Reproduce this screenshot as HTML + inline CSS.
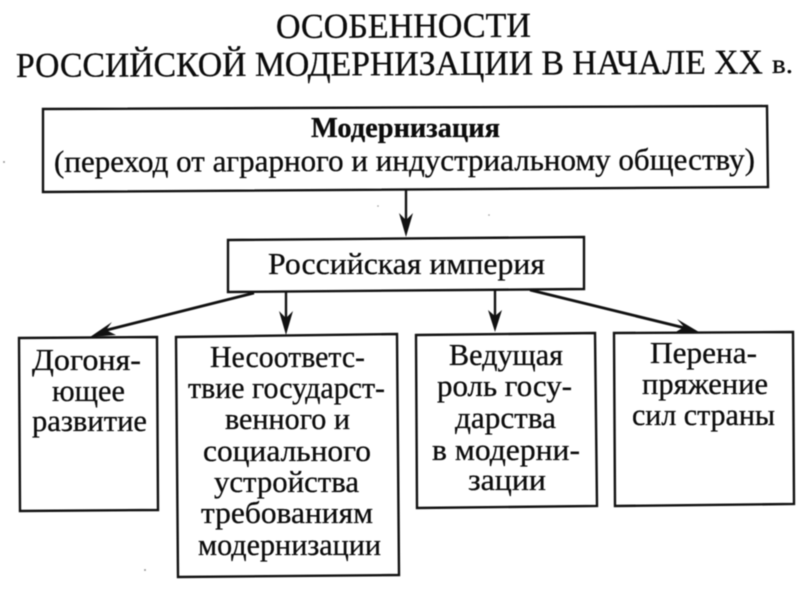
<!DOCTYPE html>
<html><head><meta charset="utf-8"><style>
html,body{margin:0;padding:0;background:#fff;width:800px;height:600px;overflow:hidden}
svg{display:block;filter:blur(.4px)}
text{font-family:"Liberation Serif","Noto Serif CJK SC",serif;fill:#0c0c0c;stroke:#0c0c0c;stroke-width:.3px;font-size:31px}
</style></head><body>
<svg width="800" height="600" viewBox="0 0 800 600" xmlns="http://www.w3.org/2000/svg">
<text x="276" y="38" textLength="255" lengthAdjust="spacingAndGlyphs" transform="rotate(-.27 276 38)" style="font-size:35px">ОСОБЕННОСТИ</text>
<text x="16" y="77" textLength="747" lengthAdjust="spacingAndGlyphs" transform="rotate(-.27 16 77)" style="font-size:35px">РОССИЙСКОЙ МОДЕРНИЗАЦИИ В НАЧАЛЕ ХХ</text>
<text x="772" y="73" textLength="21" lengthAdjust="spacingAndGlyphs" style="font-size:27px">в.</text>

<g fill="none" stroke="#111" stroke-width="2.4">
<polygon points="43,109 767,106 768,187 43,192"/>
<polygon points="228,240 584,237 584,289 228,292"/>
<polygon points="19,338 157,337 158,510 20,511"/>
<polygon points="176,337 397,334 399,575 178,577"/>
<polygon points="416,335 595,333 597,506 417,508"/>
<polygon points="614,333 793,332 794,504 615,506"/>
<line x1="406" y1="189" x2="406" y2="220"/>
<line x1="286" y1="292" x2="286" y2="318"/>
<line x1="495" y1="290" x2="495" y2="316"/>
<line x1="254" y1="293" x2="103" y2="331" stroke-width="2.8"/>
<line x1="530" y1="290" x2="685" y2="328" stroke-width="2.8"/>
</g>
<g fill="#111">
<polygon points="399,213 406,220 413,213 406,237"/>
<polygon points="279,311 286,318 293,311 286,335"/>
<polygon points="488,310 495,316 502,310 495,332"/>
<polygon points="90,337 112,322 106,330 116,335"/>
<polygon points="699,332 677,319 684,327 674,333"/>
</g>

<text x="311" y="137" textLength="189" lengthAdjust="spacingAndGlyphs" style="font-weight:bold;font-size:29px">Модернизация</text>
<text x="54" y="172" textLength="701" lengthAdjust="spacingAndGlyphs" transform="rotate(-.2 54 172)">(переход от аграрного и индустриальному обществу)</text>
<text x="268" y="274" textLength="277" lengthAdjust="spacingAndGlyphs">Российская империя</text>

<text x="32" y="370" textLength="109" lengthAdjust="spacingAndGlyphs">Догоня-</text>
<text x="52" y="401" textLength="73" lengthAdjust="spacingAndGlyphs">ющее</text>
<text x="32" y="431" textLength="115" lengthAdjust="spacingAndGlyphs">развитие</text>

<text x="210" y="367" textLength="155" lengthAdjust="spacingAndGlyphs">Несоответс-</text>
<text x="188" y="398" textLength="197" lengthAdjust="spacingAndGlyphs">твие государст-</text>
<text x="225" y="429" textLength="125" lengthAdjust="spacingAndGlyphs">венного и</text>
<text x="203" y="461" textLength="168" lengthAdjust="spacingAndGlyphs">социального</text>
<text x="214" y="492" textLength="145" lengthAdjust="spacingAndGlyphs">устройства</text>
<text x="201" y="523" textLength="172" lengthAdjust="spacingAndGlyphs">требованиям</text>
<text x="198" y="555" textLength="183" lengthAdjust="spacingAndGlyphs">модернизации</text>

<text x="449" y="365" textLength="114" lengthAdjust="spacingAndGlyphs">Ведущая</text>
<text x="437" y="396" textLength="135" lengthAdjust="spacingAndGlyphs">роль госу-</text>
<text x="455" y="428" textLength="101" lengthAdjust="spacingAndGlyphs">дарства</text>
<text x="432" y="460" textLength="148" lengthAdjust="spacingAndGlyphs">в модерни-</text>
<text x="468" y="490" textLength="78" lengthAdjust="spacingAndGlyphs">зации</text>

<text x="650" y="363" textLength="107" lengthAdjust="spacingAndGlyphs">Перена-</text>
<text x="642" y="394" textLength="126" lengthAdjust="spacingAndGlyphs">пряжение</text>
<text x="632" y="425" textLength="143" lengthAdjust="spacingAndGlyphs">сил страны</text>

<g fill="#999">
<circle cx="4" cy="162" r="1"/>
<circle cx="145" cy="570" r="1"/>
<circle cx="378" cy="206" r=".8"/>
<circle cx="489" cy="215" r=".8"/>
</g>
</svg>
</body></html>
